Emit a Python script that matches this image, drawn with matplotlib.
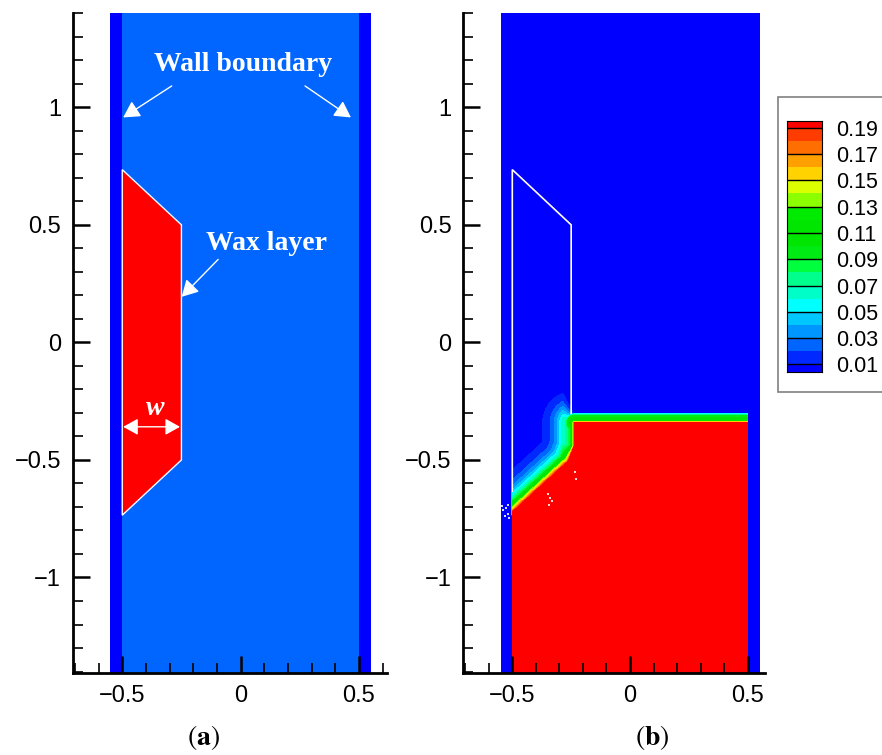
import numpy as np
import matplotlib
matplotlib.use('Agg')
import matplotlib.pyplot as plt
from matplotlib.colors import ListedColormap, BoundaryNorm
from matplotlib.path import Path
from matplotlib.patches import Polygon, Rectangle
from matplotlib.ticker import MultipleLocator

plt.rcParams['font.family'] = ['Liberation Sans', 'DejaVu Sans']
plt.rcParams['mathtext.fontset'] = 'stix'

# pipe geometry
wall_in = 0.5
wall_out = 0.55
wax_x = [-0.5, -0.25, -0.25, -0.5]
wax_y = [0.735, 0.5, -0.5, -0.735]

# melted wax front in (b)
front_x = [0.5, -0.236, -0.236, -0.262, -0.495]
front_y = [-0.342, -0.342, -0.441, -0.508, -0.721]
w_flat = 0.042     # thickness of the mixing layer over the flat part
lam_slope = 0.045  # decay length of the halo along the slanted part

# stray cells near the front in (b)
speck_x = [-0.545, -0.538, -0.528, -0.52, -0.512, -0.533, -0.518, -0.35, -0.34, -0.33, -0.345, -0.235, -0.228]
speck_y = [-0.695, -0.715, -0.705, -0.73, -0.745, -0.74, -0.69, -0.645, -0.66, -0.675, -0.69, -0.55, -0.58]

levels = [0.0, 0.01, 0.02, 0.03, 0.04, 0.05, 0.06, 0.07, 0.08, 0.09, 0.10,
          0.11, 0.12, 0.13, 0.14, 0.15, 0.16, 0.17, 0.18, 0.19, 0.20]
cbar_ticks = [0.01, 0.03, 0.05, 0.07, 0.09, 0.11, 0.13, 0.15, 0.17, 0.19]
cbar_labels = ['0.01', '0.03', '0.05', '0.07', '0.09', '0.11', '0.13', '0.15', '0.17', '0.19']
band_colors = ['#0000ff', '#0028ff', '#0064ff', '#0096ff', '#00c8ff',
               '#00ffff', '#00ffc8', '#00ff8c', '#00ff3c', '#00eb14',
               '#00e600', '#00e600', '#00eb00', '#8cff00', '#dcff00',
               '#ffd200', '#ffa000', '#ff6e00', '#ff3c00', '#ff0000']

xticks = [-0.5, 0, 0.5]
xticklabels = ['\u22120.5', '0', '0.5']
yticks = [-1, -0.5, 0, 0.5, 1]
yticklabels = ['\u22121', '\u22120.5', '0', '0.5', '1']

fluid_a = '#0066ff'
wall_c = '#0000ff'
wax_c = '#ff0000'

cmap = ListedColormap(band_colors)
norm = BoundaryNorm(levels, cmap.N)


def seg_dist(px, py, x0, y0, x1, y1):
    dx, dy = x1 - x0, y1 - y0
    t = np.clip(((px - x0) * dx + (py - y0) * dy) / (dx * dx + dy * dy), 0, 1)
    return np.hypot(px - (x0 + t * dx), py - (y0 + t * dy))


def poly_dist(px, py, xs, ys):
    d = np.full(px.shape, np.inf)
    for i in range(len(xs) - 1):
        d = np.minimum(d, seg_dist(px, py, xs[i], ys[i], xs[i + 1], ys[i + 1]))
    return d


def style_axes(ax, xlim):
    ax.set_xlim(*xlim)
    ax.set_ylim(-1.405, 1.40)
    ax.set_xticks(xticks)
    ax.set_xticklabels(xticklabels)
    ax.set_yticks(yticks)
    ax.set_yticklabels(yticklabels)
    ax.xaxis.set_minor_locator(MultipleLocator(0.1))
    ax.yaxis.set_minor_locator(MultipleLocator(0.1))
    ax.tick_params(which='major', direction='in', length=12, width=1.8, labelsize=17)
    ax.tick_params(which='minor', direction='in', length=7, width=1.2)
    ax.tick_params(axis='x', pad=9)
    ax.tick_params(axis='y', pad=8.5)
    for s in ['top', 'right']:
        ax.spines[s].set_visible(False)
    for s in ['left', 'bottom']:
        ax.spines[s].set_linewidth(2)
    ax.set_axisbelow(False)
    ax.patch.set_alpha(0)


def add_walls(ax):
    for x0 in [-wall_out, wall_in]:
        ax.add_patch(Rectangle((x0, -2), wall_out - wall_in, 4, facecolor=wall_c,
                               edgecolor='none', zorder=0.8))


fig = plt.figure(figsize=(8.82, 7.55), dpi=100)

# ---- (a) initial wax layer
ax1 = fig.add_axes([73 / 882, 1 - 672.7 / 755, 313.7 / 882, 659.4 / 755])
ax1.add_patch(Rectangle((-wall_in, -2), 2 * wall_in, 4, facecolor=fluid_a, edgecolor='none'))
add_walls(ax1)
ax1.add_patch(Polygon(np.c_[wax_x, wax_y], closed=True, facecolor=wax_c, edgecolor='white', lw=1))
style_axes(ax1, (-0.708, 0.617))

arr = dict(arrowstyle='-|>,head_length=0.45,head_width=0.25', color='white', lw=1,
           mutation_scale=22, shrinkA=0, shrinkB=0)
ax1.text(0.012, 1.154, 'Wall boundary', color='white', fontsize=20, fontweight='bold',
         family='Liberation Serif', ha='center', va='baseline')
ax1.annotate('', xy=(-0.496, 0.957), xytext=(-0.291, 1.091), arrowprops=arr)
ax1.annotate('', xy=(0.466, 0.957), xytext=(0.272, 1.091), arrowprops=arr)
ax1.text(0.11, 0.393, 'Wax layer', color='white', fontsize=20, fontweight='bold',
         family='Liberation Serif', ha='center', va='baseline')
ax1.annotate('', xy=(-0.249, 0.194), xytext=(-0.095, 0.353), arrowprops=arr)
ax1.text(-0.362, -0.309, 'w', color='white', fontsize=20, fontweight='bold', style='italic',
         family='Liberation Serif', ha='center', va='baseline')
ax1.annotate('', xy=(-0.256, -0.359), xytext=(-0.496, -0.359),
             arrowprops=dict(arrowstyle='<|-|>,head_length=0.45,head_width=0.25', color='white',
                             lw=1, mutation_scale=20, shrinkA=0, shrinkB=0))

# ---- (b) wax concentration after melting
ax2 = fig.add_axes([463.3 / 882, 1 - 672.7 / 755, 301.7 / 882, 659.4 / 755])
gx = np.linspace(-wall_in, wall_in, 401)
gy = np.linspace(-1.41, 1.41, 1129)
X, Y = np.meshgrid(gx, gy)
# thin mixing layer above the flat front
t = np.clip(poly_dist(X, Y, front_x[:2], front_y[:2]) / w_flat, 0, 1)
c_flat = 0.1 + 0.1 * (1 - 2 * t) ** 3
# wider halo along the slanted front, fading towards the corner
lam = 0.25 * w_flat + (lam_slope - 0.25 * w_flat) * np.clip((front_x[1] - X) / 0.05, 0, 1)
c_slope = 0.2 * np.exp(-poly_dist(X, Y, front_x[1:], front_y[1:]) / lam)
conc = np.maximum(c_flat, c_slope)
red_path = Path(list(zip(front_x + [-0.5, -0.5, 0.5], front_y + [front_y[-1], -1.5, -1.5])))
inside = red_path.contains_points(np.c_[X.ravel(), Y.ravel()]).reshape(X.shape)
conc[inside] = 0.2
ax2.contourf(X, Y, conc, levels=levels, cmap=cmap, norm=norm, zorder=1)
add_walls(ax2)
# old wax outline: visible in the light part, hidden under the dense wax
ax2.add_patch(Polygon(np.c_[wax_x, wax_y], closed=True, facecolor='none', edgecolor='white',
                      lw=1.2, zorder=1.5))
ax2.contourf(X, Y, conc, levels=levels[5:], cmap=cmap, norm=norm, zorder=2)
ax2.plot(speck_x, speck_y, 's', color='white', ms=1.6, mew=0, alpha=0.85, zorder=2.2)
style_axes(ax2, (-0.708, 0.573))

# ---- legend
fig.patches.append(Rectangle((778.3 / 882, 1 - 391.7 / 755), 0.2, 295 / 755,
                             transform=fig.transFigure, facecolor='white',
                             edgecolor='#808080', lw=1.2, zorder=-1))
cax = fig.add_axes([786.7 / 882, 1 - 371.7 / 755, 35 / 882, 251 / 755])
cax.pcolormesh([0, 1], levels, np.array(levels[:-1])[:, None] + 0.005, cmap=cmap, norm=norm)
cax.hlines(cbar_ticks, 0, 1, colors='black', lw=1)
cax.set_xlim(0, 1)
cax.set_ylim(0.0045, 0.1953)
cax.set_xticks([])
cax.yaxis.tick_right()
cax.set_yticks(cbar_ticks)
cax.set_yticklabels(cbar_labels)
cax.tick_params(axis='y', length=0, pad=10.5, labelsize=15.5)
for s in cax.spines.values():
    s.set_linewidth(0.8)

fig.text(203 / 882, 1 - 738 / 755, r'$(\mathbf{a})$', fontsize=20, ha='center', va='center')
fig.text(652 / 882, 1 - 738 / 755, r'$(\mathbf{b})$', fontsize=20, ha='center', va='center')

fig.savefig('out.png', dpi=100)
